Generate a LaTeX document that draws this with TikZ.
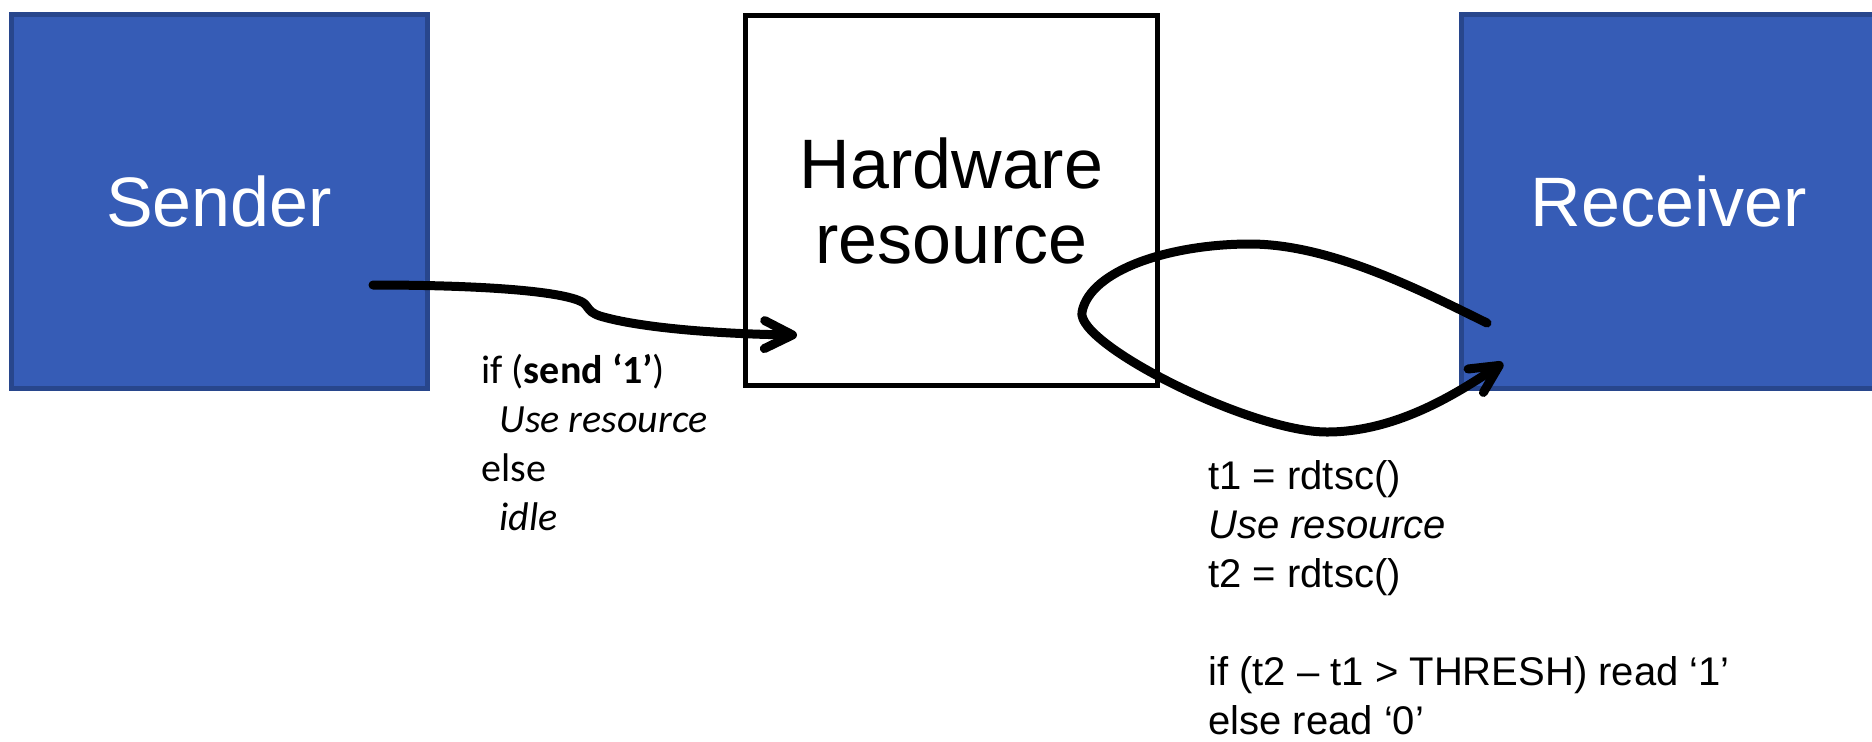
\documentclass[tikz,border=0pt]{standalone}
\usepackage{fontspec}
\setmainfont{Liberation Sans}
\newfontfamily\calibri{Carlito}
\usetikzlibrary{arrows.meta}
\definecolor{boxblue}{RGB}{54,92,182}
\definecolor{boxedge}{RGB}{40,70,140}

\begin{document}
\begin{tikzpicture}[
    x=0.5pt, y=-0.5pt,
    party/.style={draw=boxedge, line width=2.5pt, fill=boxblue, text=white,
      minimum width=208pt, minimum height=187pt, font=\fontsize{35pt}{37.5pt}\selectfont},
    res/.style={draw=black, line width=2.25pt, minimum width=206pt, minimum height=185pt,
      align=center, font=\fontsize{35pt}{37.5pt}\selectfont},
    code/.style={anchor=base west, inner sep=0pt, align=left},
    wire/.style={line width=4.5pt, line cap=round, line join=round,
      -{Straight Barb[round, length=14pt, width=14pt]}},
]
    \useasboundingbox (0,0) rectangle (1872,741);
    \clip (0,0) rectangle (1872,741);

    % the three parties
    \node[party] (sender) at (219,201) {Sender};
    \node[res] (hw) at (951.5,200.5) {Hardware\\resource};
    \node[party] (receiver) at (1669,201) {Receiver};

    % what each side runs (base = last line)
    \node[code, font=\calibri\fontsize{20pt}{24.5pt}\selectfont] (sendcode) at (481,530)
      {if (\textbf{send ‘1’})\\ \hspace*{9pt}\textit{Use resource}\\ else\\ \hspace*{9pt}\textit{idle}};
    \node[code, font=\fontsize{20pt}{24.5pt}\selectfont] (rcvcode) at (1208,734)
      {t1 = rdtsc()\\ \textit{Use resource}\\ t2 = rdtsc()\\[24.5pt]
       if (t2 – t1 > THRESH) read ‘1’\\ else read ‘0’};

    % arrow ends
    \coordinate (sendout) at (373,285);
    \coordinate (hwin) at (797,335);
    \coordinate (rcvout) at (1487,323);
    \coordinate (rcvin) at (1503,363);

    % sender -> resource
    \draw[wire] (sendout) .. controls (470,285) and (555,290) .. (580,301)
      .. controls (590,305) and (585,311) .. (600,316)
      .. controls (640,328) and (720,334) .. (hwin);

    % receiver -> resource -> receiver
    \draw[wire] (rcvout) .. controls (1420,290) and (1330,244) .. (1250,244)
      .. controls (1170,244) and (1090,270) .. (1082,312)
      .. controls (1076,344) and (1250,432) .. (1327,432)
      .. controls (1400,432) and (1463,389) .. (rcvin);
\end{tikzpicture}
\end{document}
